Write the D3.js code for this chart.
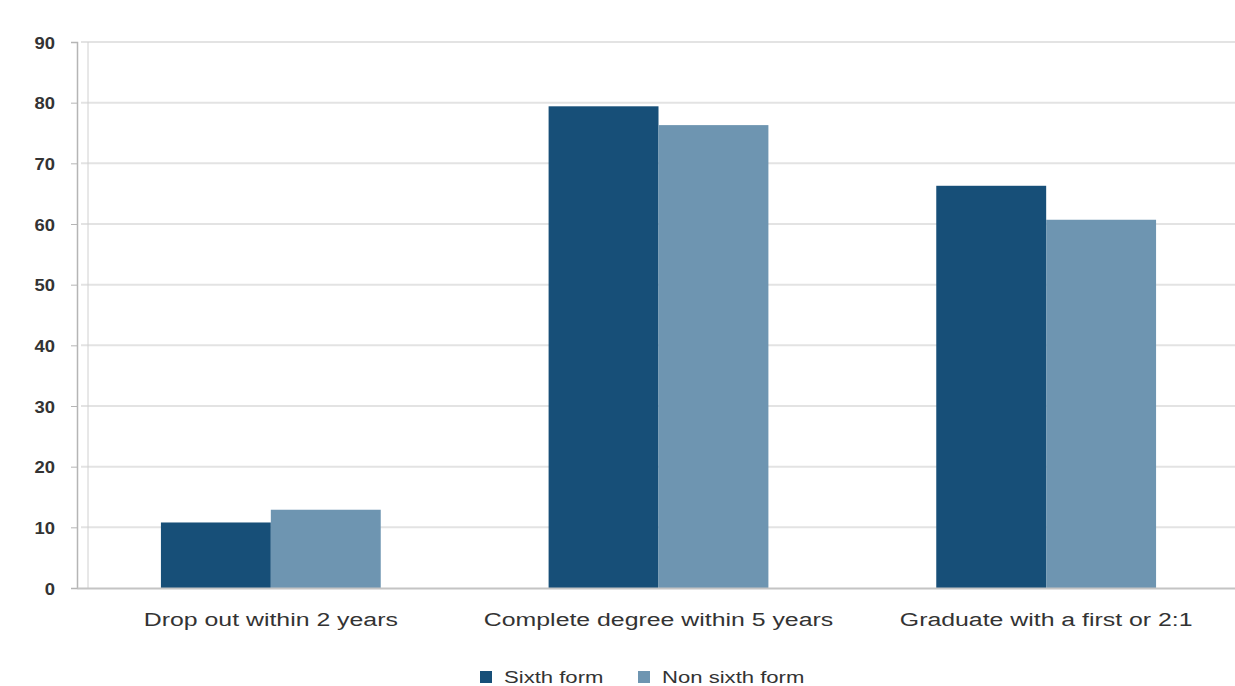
<!DOCTYPE html>
<html><head><meta charset="utf-8">
<script src="https://cdn.jsdelivr.net/npm/d3@7"></script>
<style>body{margin:0;background:#fff;} svg{display:block;}</style>
</head><body>
<svg id="c" width="1235" height="686"></svg>
<script>
const categories = ["Drop out within 2 years", "Complete degree within 5 years", "Graduate with a first or 2:1"];
const seriesNames = ["Sixth form", "Non sixth form"];
const sixthForm = [10.8, 79.4, 66.3];
const nonSixthForm = [12.9, 76.3, 60.7];
const yTicks = [0, 10, 20, 30, 40, 50, 60, 70, 80, 90];
const colors = ["#174f78", "#6e95b1"];

const svg = d3.select("#c");
const m = {left: 77, right: 0, top: 42, bottom: 98};
const W = 1235, H = 686;
const x = d3.scaleBand().domain(categories).range([m.left, 1240]).paddingInner(0.433).paddingOuter(0.2165);
const x1 = d3.scaleBand().domain(seriesNames).range([0, x.bandwidth()]);
const y = d3.scaleLinear().domain([0, 90]).range([H - m.bottom, m.top]);

// gridlines
svg.append("g").selectAll("line").data(yTicks.slice(1)).join("line")
  .attr("x1", m.left + 4).attr("x2", W).attr("y1", d => y(d)).attr("y2", d => y(d))
  .attr("stroke", "#e3e3e3").attr("stroke-width", 2);

// second faint vertical line
svg.append("line").attr("x1", 88).attr("x2", 88).attr("y1", y(90)).attr("y2", y(0))
  .attr("stroke", "#d0d0d0").attr("stroke-width", 1);

// y axis
const yAxis = svg.append("g").attr("transform", `translate(${m.left},0)`)
  .call(d3.axisLeft(y).tickValues(yTicks).tickSize(6).tickPadding(0));
yAxis.select(".domain").attr("stroke", "#b5b5b5").attr("stroke-width", 1.5);
yAxis.selectAll(".tick line").attr("stroke", "#b5b5b5");
yAxis.selectAll("text").attr("x", 0)
  .attr("transform", "translate(-22,1) scale(1.15,1)")
  .attr("font-family", "Liberation Sans, Arial, sans-serif")
  .attr("font-size", 16).attr("font-weight", "bold").attr("fill", "#333");

// bars
const data = categories.map((c, i) => ({c, vals: [sixthForm[i], nonSixthForm[i]]}));
const g = svg.append("g").selectAll("g").data(data).join("g")
  .attr("transform", d => `translate(${x(d.c)},0)`);
g.selectAll("rect").data(d => d.vals.map((v, j) => ({s: seriesNames[j], v, j}))).join("rect")
  .attr("x", d => x1(d.s)).attr("width", x1.bandwidth())
  .attr("y", d => y(d.v)).attr("height", d => y(0) - y(d.v))
  .attr("fill", d => colors[d.j]);

// x axis
const xAxis = svg.append("g").attr("transform", `translate(0,${y(0)})`)
  .call(d3.axisBottom(x).tickSize(0).tickPadding(0));
xAxis.select(".domain").attr("stroke", "#c4c4c4").attr("stroke-width", 2);
xAxis.selectAll("text").attr("y", 0).attr("dy", 0)
  .attr("transform", "translate(0,38) scale(1.38,1)")
  .attr("font-family", "Liberation Sans, Arial, sans-serif")
  .attr("font-size", 18).attr("fill", "#333");

// legend
const leg = svg.append("g").attr("transform", "translate(480,683)");
const legX = [0, 158];
seriesNames.forEach((s, i) => {
  const lg = leg.append("g").attr("transform", `translate(${legX[i]},0)`);
  lg.append("rect").attr("x", 0).attr("y", -12).attr("width", 12).attr("height", 12).attr("fill", colors[i]);
  lg.append("text").attr("x", 0).attr("y", 0).text(s)
    .attr("transform", "translate(24,0) scale(1.3,1)")
    .attr("font-family", "Liberation Sans, Arial, sans-serif")
    .attr("font-size", 17).attr("fill", "#333");
});
</script>
</body></html>
